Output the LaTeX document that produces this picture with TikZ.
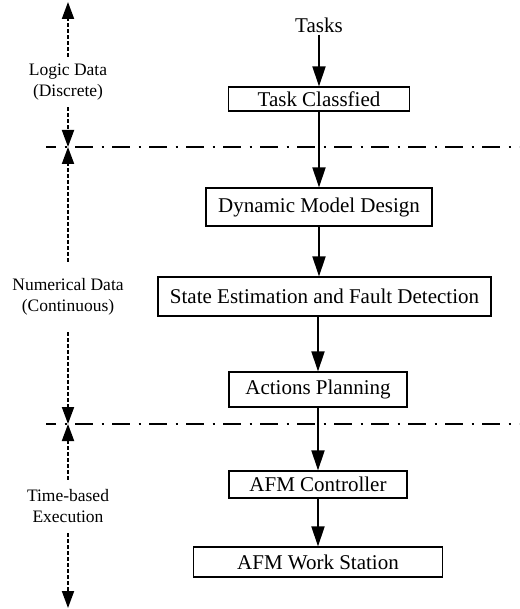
\documentclass[tikz,border=0pt]{standalone}
\usepackage{fontspec}
\setmainfont{Liberation Serif}
\usetikzlibrary{arrows.meta,positioning}

\begin{document}
\begin{tikzpicture}[x=1pt,y=-1pt,
	box/.style={draw,line width=1.2pt,inner sep=0pt,font=\fontsize{21}{25}\selectfont},
	flow/.style={line width=1.9pt,-{Triangle[length=20pt,width=13pt]}},
	side/.style={line width=1.9pt,dash pattern=on 4pt off 2pt,-{Triangle[length=17pt,width=12pt]}},
	lbl/.style={align=center,inner sep=0pt,font=\fontsize{17.5}{21}\selectfont},
	sep/.style={line width=1.9pt,dash pattern=on 18pt off 8.5pt on 2pt off 8.5pt,dash phase=8pt}]
\useasboundingbox (0,0) rectangle (519,609);

\node[font=\fontsize{21}{25}\selectfont,inner sep=2pt] (tasks) at (319,25) {Tasks};
\node[box,minimum width=181pt,minimum height=24pt] (cls) at (319,99) {Task Classfied};
\node[box,minimum width=226pt,minimum height=38pt] (dyn) at (319,207) {Dynamic Model Design};
\node[box,minimum width=333pt,minimum height=39pt] (sef) at (324.5,296.5) {State Estimation and Fault Detection};
\node[box,minimum width=178pt,minimum height=35pt] (plan) at (318,389.5) {Actions Planning};
\node[box,minimum width=178pt,minimum height=27pt] (ctrl) at (318,484.5) {AFM Controller};
\node[box,minimum width=249pt,minimum height=30pt] (ws) at (318,562) {AFM Work Station};

\coordinate (s1l) at (46,147);
\coordinate (s1r) at (519,147);
\coordinate (s2l) at (46,424);
\coordinate (s2r) at (519,424);
\draw[sep] (s1l) -- (s1r);
\draw[sep] (s2l) -- (s2r);

\path[flow]	(tasks)	edge	(cls)
		(cls)	edge	(dyn)
		(dyn.south)	edge	(dyn.south |- sef.north)
		(plan.north |- sef.south)	edge	(plan)
		(plan)	edge	(ctrl)
		(ctrl)	edge	(ws);

\coordinate (top) at (68,2);
\coordinate (bot) at (68,608);
\coordinate (s1) at (68,147);
\coordinate (s2) at (68,424);
\node[lbl,minimum height=50pt] (logic) at (68,82) {Logic Data\\(Discrete)};
\node[lbl,minimum height=70pt] (num) at (68,297) {Numerical Data\\(Continuous)};
\node[lbl,minimum height=53pt] (time) at (68,506.5) {Time-based\\Execution};

\path[side]	(logic)	edge	(top)
			edge	(s1)
		(num)	edge	(s1)
			edge	(s2)
		(time)	edge	(s2)
			edge	(bot);
\end{tikzpicture}
\end{document}
